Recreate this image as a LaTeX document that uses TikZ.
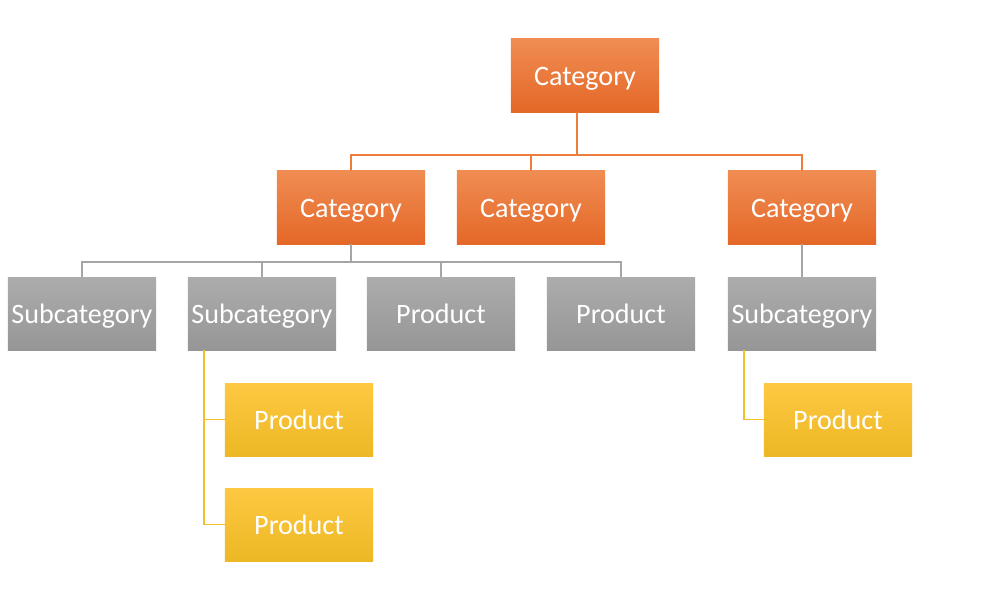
\documentclass[tikz,border=0pt]{standalone}
\usepackage{fontspec}
\setmainfont{Carlito}
\usepackage{xcolor}
\usetikzlibrary{positioning}

\definecolor{orangetop}{RGB}{240,140,82}
\definecolor{orangebot}{RGB}{228,104,40}
\definecolor{graytop}{RGB}{172,172,172}
\definecolor{graybot}{RGB}{150,150,150}
\definecolor{yellowtop}{RGB}{254,200,66}
\definecolor{yellowbot}{RGB}{236,184,36}
\definecolor{orangeline}{RGB}{236,125,60}
\definecolor{grayline}{RGB}{165,165,165}
\definecolor{yellowline}{RGB}{246,190,40}

\tikzset{
  box/.style={minimum width=3.7cm,minimum height=1.825cm,inner sep=0pt,
              text=white,font=\fontsize{20}{22}\selectfont,
              text height=0.48cm,text depth=0cm},
  catbox/.style={box,top color=orangetop,bottom color=orangebot},
  subbox/.style={box,top color=graytop,bottom color=graybot},
  prodbox/.style={box,top color=yellowtop,bottom color=yellowbot},
  link/.style={line width=1.2pt}
}

\begin{document}
\begin{tikzpicture}[x=0.025cm,y=-0.025cm]
            \useasboundingbox (0,0) rectangle (1008,595);
            % top level
            \node[catbox] (cat) at (585,75.5) {Category};
            % second level
            \node[catbox] (catA) at (351,207.5) {Category};
            \node[catbox] (catB) at (531,207.5) {Category};
            \node[catbox] (catC) at (802,207.5) {Category};
            % third level
            \node[subbox] (subA) at (82,313.5) {Subcategory};
            \node[subbox] (subB) at (262,313.5) {Subcategory};
            \node[subbox] (prodA) at (441,313.5) {Product};
            \node[subbox] (prodB) at (621,313.5) {Product};
            \node[subbox] (subC) at (802,313.5) {Subcategory};
            % products
            \node[prodbox] (itemA) at (299,419.5) {Product};
            \node[prodbox] (itemB) at (299,524.5) {Product};
            \node[prodbox] (itemC) at (838,419.5) {Product};

            \path[draw=orangeline,link] ([xshift=-0.2cm]cat.south) -- ++(0,-1.075cm)
                 coordinate (obus);
            \path[draw=orangeline,link] (catA.north) |- (obus) -| (catC.north);
            \path[draw=orangeline,link] (catB.north) -- (catB.north |- obus);

            \path[draw=grayline,link] (catA.south) -- ++(0,-0.45cm) coordinate (gbus);
            \path[draw=grayline,link] (subA.north) |- (gbus) -| (prodB.north);
            \path[draw=grayline,link] (subB.north) -- (subB.north |- gbus);
            \path[draw=grayline,link] (prodA.north) -- (prodA.north |- gbus);
            \path[draw=grayline,link] (catC.south) -- (subC.north);

            \coordinate (ybusB) at ([xshift=0.4cm]subB.south west);
            \path[draw=yellowline,link] (ybusB) |- (itemB.west);
            \path[draw=yellowline,link] (itemA.west) -- (itemA.west -| ybusB);
            \coordinate (ybusC) at ([xshift=0.4cm]subC.south west);
            \path[draw=yellowline,link] (ybusC) |- (itemC.west);
          \end{tikzpicture}
\end{document}
